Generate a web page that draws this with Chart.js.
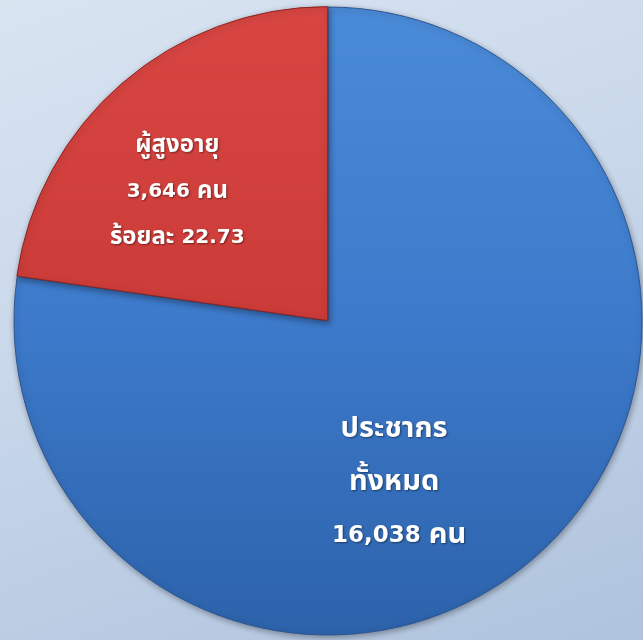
<!DOCTYPE html>
<html>
<head>
<meta charset="utf-8">
<script src="https://cdn.jsdelivr.net/npm/chart.js@4.4.1/dist/chart.umd.min.js"></script>
<style>
  html, body { margin: 0; padding: 0; }
  body { width: 643px; height: 640px; background: linear-gradient(160deg, #d9e4f1 0%, #c8d7ea 45%, #afc3dd 100%); overflow: hidden; }
  #wrap { position: relative; width: 643px; height: 640px; }
</style>
</head>
<body>
<div id="wrap"><canvas id="c" width="643" height="640"></canvas></div>
<script>
// ---- data ----
const categories = ['ประชากรทั้งหมด', 'ผู้สูงอายุ'];
const shares = [77.27, 22.73];
const sliceLabels = [
  ['ประชากร', 'ทั้งหมด', '16,038 คน'],
  ['ผู้สูงอายุ', '3,646 คน', 'ร้อยละ 22.73']
];

const FONT = "'DejaVu Sans', 'Noto Sans Thai', 'Noto Sans', sans-serif";

const sliceStops = [
  ['#4a8bd8', '#3d7acb', '#2c62aa'],
  ['#d84642', '#cb3b38', '#b8302d']
];

function sliceGradient(ctx) {
  const chart = ctx.chart;
  const area = chart.chartArea;
  const s = sliceStops[ctx.dataIndex] || sliceStops[0];
  if (!area) return s[1];
  const g = chart.ctx.createLinearGradient(0, area.top, 0, area.bottom);
  g.addColorStop(0, s[0]);
  g.addColorStop(0.5, s[1]);
  g.addColorStop(1, s[2]);
  return g;
}

const shadowPlugin = {
  id: 'shadow',
  beforeDatasetDraw(chart) {
    const c = chart.ctx;
    c.save();
    c.shadowColor = 'rgba(0,0,0,0.35)';
    c.shadowBlur = 6;
    c.shadowOffsetX = 1;
    c.shadowOffsetY = 2;
  },
  afterDatasetDraw(chart) {
    chart.ctx.restore();
  }
};

function drawMixed(c, text, cx, y, size, thaiScale) {
  const runs = text.match(/[\u0E00-\u0E7F]+|[^\u0E00-\u0E7F]+/g) || [];
  const fonts = runs.map(r => /[\u0E00-\u0E7F]/.test(r)
    ? 'bold ' + Math.round(size * thaiScale) + 'px ' + FONT
    : 'bold ' + size + 'px ' + FONT);
  const widths = runs.map((r, i) => { c.font = fonts[i]; return c.measureText(r).width; });
  const total = widths.reduce((a, b) => a + b, 0);
  let x = cx - total / 2;
  runs.forEach((r, i) => {
    c.font = fonts[i];
    c.fillText(r, x, y);
    x += widths[i];
  });
}

const labelPlugin = {
  id: 'sliceText',
  afterDatasetsDraw(chart, args, opts) {
    const meta = chart.getDatasetMeta(0);
    const c = chart.ctx;
    meta.data.forEach((arc, i) => {
      const r = arc.outerRadius;
      const pos = opts.positions[i];
      const x = arc.x + pos[0] * r;
      const y = arc.y + pos[1] * r;
      const lines = sliceLabels[i];
      const size = opts.sizes[i];
      const gap = opts.gaps[i];
      c.save();
      c.textAlign = 'left';
      c.textBaseline = 'middle';
      c.fillStyle = '#ffffff';
      c.shadowColor = 'rgba(0,0,0,0.45)';
      c.shadowBlur = 2;
      c.shadowOffsetX = 1;
      c.shadowOffsetY = 1;
      lines.forEach((t, k) => {
        drawMixed(c, t, x + opts.dx[i][k], y + (k - 1) * gap, size, opts.thaiScale[i]);
      });
      c.restore();
    });
  }
};

new Chart(document.getElementById('c'), {
  type: 'pie',
  data: {
    labels: categories,
    datasets: [{
      data: shares,
      backgroundColor: sliceGradient,
      borderColor: ['#2a5592', '#8e2422'],
      borderWidth: 1,
      offset: [0, 2]
    }]
  },
  options: {
    responsive: false,
    animation: false,
    rotation: 0,
    radius: 314,
    layout: { padding: { left: 13, right: 0, top: 2, bottom: 0 } },
    plugins: {
      legend: { display: false },
      tooltip: { enabled: false },
      sliceText: {
        positions: [[0.22, 0.515], [-0.48, -0.41]],
        sizes: [23, 20],
        thaiScale: [1.25, 1.2],
        gaps: [53, 46],
        dx: [[-3, -3, 2], [0, 0, 0]]
      }
    }
  },
  plugins: [shadowPlugin, labelPlugin]
});
</script>
</body>
</html>
